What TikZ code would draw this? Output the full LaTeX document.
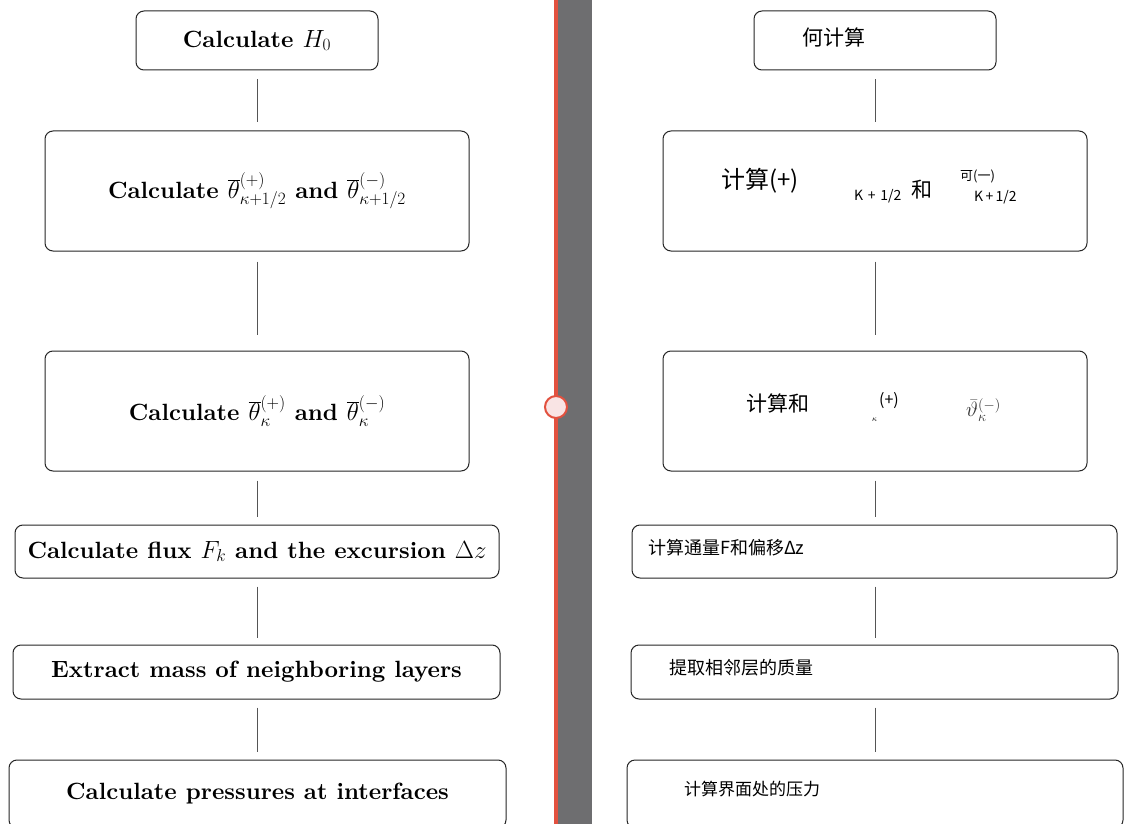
\documentclass[tikz,border=0pt]{standalone}
\usepackage{fontspec}
\setmainfont{lmroman10-regular}[Extension=.otf,BoldFont=lmroman10-bold,ItalicFont=lmroman10-italic,BoldItalicFont=lmroman10-bolditalic]
\newfontfamily\cjk{Noto Sans CJK SC}
\definecolor{divred}{HTML}{E2513F}
\definecolor{divgrey}{HTML}{6E6E70}
\definecolor{knobfill}{HTML}{F9E4E4}
\definecolor{linegrey}{HTML}{555555}
\begin{document}
\begin{tikzpicture}[x=1pt,y=-1pt,
  flowbox/.style={draw=black!85,line width=1pt,rounded corners=8pt,inner sep=0pt,
    font=\fontsize{23.5}{27}\selectfont\bfseries},
  link/.style={draw=linegrey,line width=1pt},
  cjkbig/.style={inner sep=0pt,anchor=west,font=\fontsize{21}{25}\selectfont\cjk},
  cjkmid/.style={inner sep=0pt,anchor=west,font=\fontsize{18}{22}\selectfont\cjk},
  cjksmall/.style={inner sep=0pt,anchor=west,font=\fontsize{14}{16}\selectfont\cjk}]
\useasboundingbox (0,0) rectangle (1146,824);
\fill[white] (0,0) rectangle (1146,824);
% ---------- left column ----------
\node[flowbox,minimum width=242pt,minimum height=59pt] (L1) at (257,40.5) {\raisebox{1pt}{Calculate $H_0$}};
\node[flowbox,minimum width=424pt,minimum height=120pt] (L2) at (257,191) {Calculate $\overline{\theta}^{(+)}_{\kappa+1/2}$ and $\overline{\theta}^{(-)}_{\kappa+1/2}$};
\node[flowbox,minimum width=424pt,minimum height=120pt] (L3) at (257,411) {Calculate $\overline{\theta}^{(+)}_{\kappa}$ and $\overline{\theta}^{(-)}_{\kappa}$};
\node[flowbox,minimum width=484pt,minimum height=53pt] (L4) at (257,551.5) {\raisebox{2pt}{Calculate flux $F_k$ and the excursion $\Delta z$}};
\node[flowbox,minimum width=487pt,minimum height=54pt] (L5) at (256.5,672) {\raisebox{2pt}{Extract mass of neighboring layers}};
\node[flowbox,minimum width=497pt,minimum height=68pt] (L6) at (257.5,794) {\raisebox{5pt}{Calculate pressures at interfaces}};
\draw[link,shorten <=9pt,shorten >=8pt] (L1.south) -- (L2.north);
\draw[link,shorten <=10pt,shorten >=16pt] (L2.south) -- (L3.north);
\draw[link,shorten <=9pt,shorten >=8pt] (L3.south) -- (L4.north);
\draw[link,shorten <=8pt,shorten >=7pt] (L4.south) -- (L5.north -| L4.south);
\draw[link,shorten <=8pt,shorten >=8pt] (L5.south -| L4.south) -- (L6.north -| L4.south);
% ---------- right column ----------
\node[flowbox,minimum width=242pt,minimum height=59pt] (R1) at (875,40.5) {};
\node[flowbox,minimum width=424pt,minimum height=120pt] (R2) at (875,191) {};
\node[flowbox,minimum width=424pt,minimum height=120pt] (R3) at (875,411) {};
\node[flowbox,minimum width=485pt,minimum height=53pt] (R4) at (874.5,551.5) {};
\node[flowbox,minimum width=487pt,minimum height=54pt] (R5) at (874.5,672) {};
\node[flowbox,minimum width=496pt,minimum height=68pt] (R6) at (875,794) {};
\draw[link,shorten <=9pt,shorten >=8pt] (R1.south) -- (R2.north);
\draw[link,shorten <=10pt,shorten >=16pt] (R2.south) -- (R3.north);
\draw[link,shorten <=9pt,shorten >=8pt] (R3.south) -- (R4.north -| R3.south);
\draw[link,shorten <=8pt,shorten >=7pt] (R4.south -| R3.south) -- (R5.north -| R3.south);
\draw[link,shorten <=8pt,shorten >=8pt] (R5.south -| R3.south) -- (R6.north -| R3.south);
\node[cjkbig] (t1) at (802,37) {何计算};
\node[cjkbig,font=\fontsize{24}{28}\selectfont\cjk] (t2a) at (721,181) {计算(+)};
\node[cjksmall] (t2b) at (854,196) {K\,\,+\,\,1/2};
\node[cjkbig] (t2c) at (911,190) {和};
\node[cjksmall,font=\fontsize{13}{15}\selectfont\cjk] (t2d) at (960,176) {可(一)};
\node[cjksmall] (t2e) at (974,197) {K\,+\,1/2};
\node[cjkbig] (t3a) at (746,403) {计算和};
\node[cjksmall,font=\fontsize{16}{18}\selectfont\cjk] (t3b) at (879,401) {(+)};
\node[inner sep=0pt,anchor=west,font=\fontsize{8}{9}\selectfont] (t3c) at (872,420) {$\kappa$};
\node[inner sep=0pt,anchor=west,font=\fontsize{20}{24}\selectfont,text=black!80] (t3d) at (966,410) {$\bar{\vartheta}^{(-)}_{\kappa}$};
\node[cjkmid] (t4) at (648,548) {计算通量F和偏移Δz};
\node[cjkmid] (t5) at (669,668) {提取相邻层的质量};
\node[cjkmid,font=\fontsize{17}{21}\selectfont\cjk] (t6) at (684,789) {计算界面处的压力};
% ---------- divider ----------
\fill[divgrey] (557.5,0) rectangle (592,824);
\fill[divred] (553.5,0) rectangle (557.5,824);
\node[circle,draw=divred,fill=knobfill,line width=2pt,minimum size=22pt,inner sep=0pt] (knob) at (556,407) {};
\end{tikzpicture}
\end{document}
